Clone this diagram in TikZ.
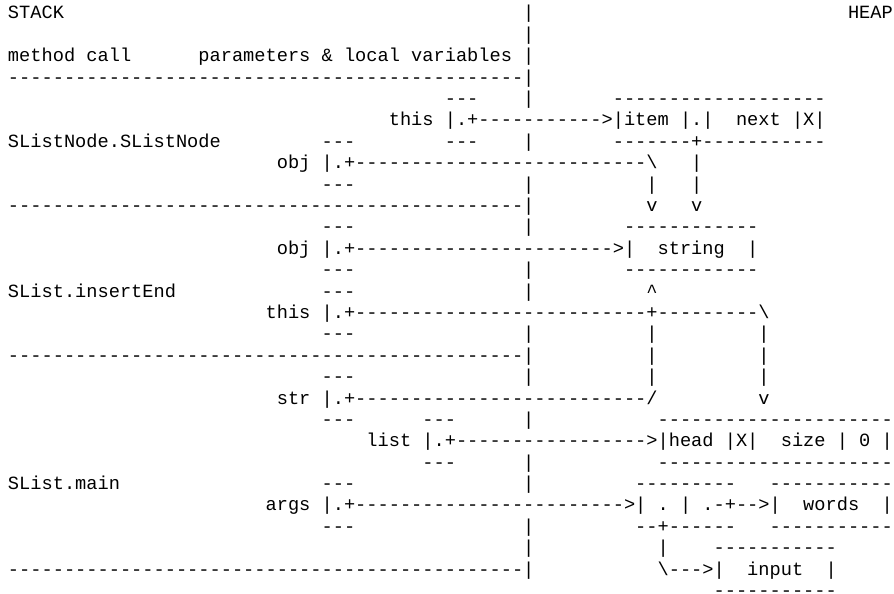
\documentclass[tikz,border=0pt]{standalone}
\usepackage{fontspec}
\setmonofont{Liberation Mono}
\ExplSyntaxOn
\cs_new:Npn \myrep #1 #2 { \prg_replicate:nn {#1} {#2} }
\ExplSyntaxOff
\newcommand\tx[3]{\node[asc] (r#2c#1) at (#1,#2) {#3};}
\begin{document}
\begin{tikzpicture}[x=11.2pt,y=-21.39pt,
  asc/.style={anchor=base west,inner sep=0pt,outer sep=0pt,
    font=\ttfamily\fontsize{18.667pt}{21.39pt}\selectfont,text=black}]
\useasboundingbox (-8pt,19pt) rectangle (886pt,-575pt);
% row 0
\tx{0}{0}{STACK}
\tx{46}{0}{|}
\tx{75}{0}{HEAP}
% row 1
\tx{46}{1}{|}
% row 2
\tx{0}{2}{method}
\tx{7}{2}{call}
\tx{17}{2}{parameters}
\tx{28}{2}{\&}
\tx{30}{2}{local}
\tx{36}{2}{variables}
\tx{46}{2}{|}
% row 3
\tx{0}{3}{\myrep{46}{-}|}
% row 4
\tx{39}{4}{---}
\tx{46}{4}{|}
\tx{54}{4}{\myrep{19}{-}}
% row 5
\tx{34}{5}{this}
\tx{39}{5}{|.+\myrep{11}{-}>|item}
\tx{60}{5}{|.|}
\tx{65}{5}{next}
\tx{70}{5}{|X|}
% row 6
\tx{0}{6}{SListNode.SListNode}
\tx{28}{6}{---}
\tx{39}{6}{---}
\tx{46}{6}{|}
\tx{54}{6}{\myrep{7}{-}+\myrep{11}{-}}
% row 7
\tx{24}{7}{obj}
\tx{28}{7}{|.+\myrep{26}{-}\textbackslash}
\tx{61}{7}{|}
% row 8
\tx{28}{8}{---}
\tx{46}{8}{|}
\tx{57}{8}{|}
\tx{61}{8}{|}
% row 9
\tx{0}{9}{\myrep{46}{-}|}
\tx{57}{9}{v}
\tx{61}{9}{v}
% row 10
\tx{28}{10}{---}
\tx{46}{10}{|}
\tx{55}{10}{\myrep{12}{-}}
% row 11
\tx{24}{11}{obj}
\tx{28}{11}{|.+\myrep{23}{-}>|}
\tx{58}{11}{string}
\tx{66}{11}{|}
% row 12
\tx{28}{12}{---}
\tx{46}{12}{|}
\tx{55}{12}{\myrep{12}{-}}
% row 13
\tx{0}{13}{SList.insertEnd}
\tx{28}{13}{---}
\tx{46}{13}{|}
\tx{57}{13}{\textasciicircum}
% row 14
\tx{23}{14}{this}
\tx{28}{14}{|.+\myrep{26}{-}+\myrep{9}{-}\textbackslash}
% row 15
\tx{28}{15}{---}
\tx{46}{15}{|}
\tx{57}{15}{|}
\tx{67}{15}{|}
% row 16
\tx{0}{16}{\myrep{46}{-}|}
\tx{57}{16}{|}
\tx{67}{16}{|}
% row 17
\tx{28}{17}{---}
\tx{46}{17}{|}
\tx{57}{17}{|}
\tx{67}{17}{|}
% row 18
\tx{24}{18}{str}
\tx{28}{18}{|.+\myrep{26}{-}/}
\tx{67}{18}{v}
% row 19
\tx{28}{19}{---}
\tx{37}{19}{---}
\tx{46}{19}{|}
\tx{58}{19}{\myrep{21}{-}}
% row 20
\tx{32}{20}{list}
\tx{37}{20}{|.+\myrep{17}{-}>|head}
\tx{64}{20}{|X|}
\tx{69}{20}{size}
\tx{74}{20}{|}
\tx{76}{20}{0}
\tx{78}{20}{|}
% row 21
\tx{37}{21}{---}
\tx{46}{21}{|}
\tx{58}{21}{\myrep{21}{-}}
% row 22
\tx{0}{22}{SList.main}
\tx{28}{22}{---}
\tx{46}{22}{|}
\tx{56}{22}{\myrep{9}{-}}
\tx{68}{22}{\myrep{11}{-}}
% row 23
\tx{23}{23}{args}
\tx{28}{23}{|.+\myrep{24}{-}>|}
\tx{58}{23}{.}
\tx{60}{23}{|}
\tx{62}{23}{.-+-->|}
\tx{71}{23}{words}
\tx{78}{23}{|}
% row 24
\tx{28}{24}{---}
\tx{46}{24}{|}
\tx{56}{24}{\myrep{2}{-}+\myrep{6}{-}}
\tx{68}{24}{\myrep{11}{-}}
% row 25
\tx{46}{25}{|}
\tx{58}{25}{|}
\tx{63}{25}{\myrep{11}{-}}
% row 26
\tx{0}{26}{\myrep{46}{-}|}
\tx{58}{26}{\textbackslash--->|}
\tx{66}{26}{input}
\tx{73}{26}{|}
% row 27
\tx{63}{27}{\myrep{11}{-}}
\end{tikzpicture}
\end{document}
